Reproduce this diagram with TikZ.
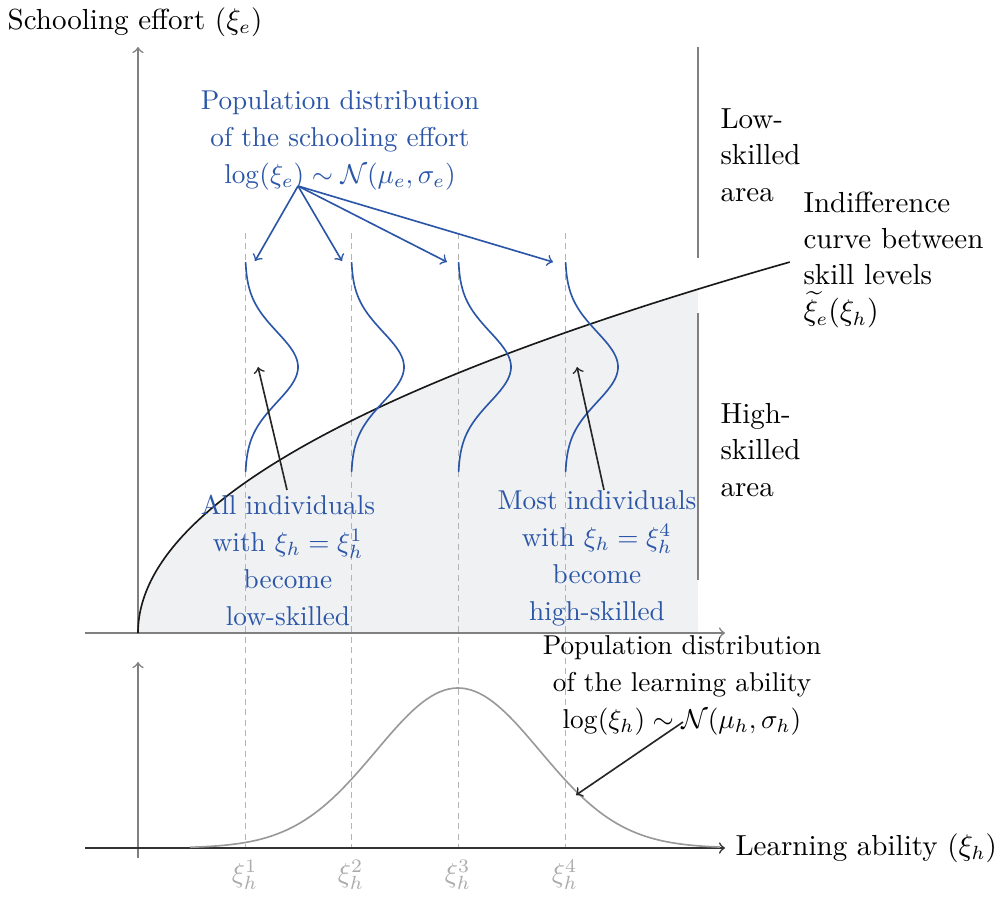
\documentclass[tikz,border=0pt]{standalone}
\usepackage{amsmath,amssymb}
\begin{document}
\begin{tikzpicture}[x=0.367pt,y=-0.367pt,
  every node/.style={font=\fontsize{10}{13.6}\selectfont},
  bigfont/.style={font=\fontsize{10.65}{13.3}\selectfont},
  blueC/.style={draw=myblue,semithick},
  axisline/.style={draw=axgray,semithick,->},
  dashv/.style={draw=dashc,line width=0.35pt,dash pattern=on 2.2pt off 1.6pt},
  txt/.style={inner sep=0pt,align=center},
  bluetxt/.style={txt,text=myblue},
  ltxt/.style={inner sep=0pt,align=left,anchor=west,bigfont},
  blackarrow/.style={draw=black!85,semithick,->}]
\definecolor{myblue}{HTML}{2B56A8}
\definecolor{axgray}{HTML}{808080}
\definecolor{dgray}{HTML}{ABABAB}
\definecolor{dashc}{HTML}{B4B4B4}
\definecolor{shadec}{HTML}{F0F1F3}
\definecolor{curvegray}{HTML}{999999}
\useasboundingbox (0,0) rectangle (1000,896);
% shaded high-skilled area
\fill[shadec] (138,633) -- plot[domain=0:23.66,samples=80] ({138+\x*\x},{633-14.53*\x}) -- (698,633) -- cycle;
% dashed verticals
\foreach \xx in {245,351,458,565} \draw[dashv] (\xx,233) -- (\xx,848);
% axes
\draw[axisline] (138,633) -- (138,47);
\draw[axisline] (85,633) -- (725,633);
\draw[axisline] (138,858) -- (138,662);
\draw[draw=black!80,semithick,->] (85,848) -- (725,848);
% indifference curve
\draw[black!90,semithick] plot[domain=0:25.53,samples=100] ({138+\x*\x},{633-14.53*\x});
% separator line
\draw[axgray,semithick] (698,47) -- (698,258);
\draw[axgray,semithick] (698,313) -- (698,580);
% blue sideways gaussians
\foreach \xx in {245,351,458,565}
  \draw[blueC] plot[domain=262:472,samples=70] ({\xx+53*exp(-0.5*((\x-367)/35)^2)},{\x});
% lower gaussian
\draw[curvegray,semithick] plot[domain=190:720,samples=120] ({\x},{848-160*exp(-0.5*((\x-458)/82)^2)});
% texts
\node[txt,bigfont] (ylab) at (135,22) {Schooling effort ($\xi_e$)};
\node[bluetxt] (popE) at (340,140) {Population distribution\\of the schooling effort\\$\log(\xi_e)\sim\mathcal{N}(\mu_e,\sigma_e)$};
\node[ltxt] (low) at (720,155) {Low-\\skilled\\area};
\node[ltxt] (high) at (720,450) {High-\\skilled\\area};
\node[ltxt] (indiff) at (803,260) {Indifference\\curve between\\skill levels\\$\widetilde{\xi}_e(\xi_h)$};
\node[bluetxt] (allind) at (288,560) {All individuals\\with $\xi_h=\xi_h^1$\\become\\low-skilled};
\node[bluetxt] (mostind) at (597,558) {Most individuals\\with $\xi_h=\xi_h^4$\\become\\high-skilled};
\node[txt] (popH) at (682,685) {Population distribution\\of the learning ability\\$\log(\xi_h)\sim\mathcal{N}(\mu_h,\sigma_h)$};
\node[ltxt] (xlab) at (735,848) {Learning ability ($\xi_h$)};
\foreach \xx/\i in {245/1,351/2,458/3,565/4}
  \node[txt,text=dgray] (t\i) at (\xx,875) {$\xi_h^{\i}$};
% arrow coordinates
\coordinate (src) at (298,186);
\coordinate (a1) at (255,261);
\coordinate (a2) at (342,261);
\coordinate (a3) at (447,262);
\coordinate (a4) at (553,262);
\foreach \i in {1,...,4} \draw[draw=myblue,semithick,->] (src) -- (a\i);
\coordinate (allS) at (287,490);
\coordinate (allT) at (258,367);
\coordinate (mostS) at (604,490);
\coordinate (mostT) at (577,367);
\draw[blackarrow] (allS) -- (allT);
\draw[blackarrow] (mostS) -- (mostT);
\coordinate (popHS) at (683,722);
\coordinate (popHT) at (576,795);
\draw[blackarrow] (popHS) -- (popHT);
\end{tikzpicture}
\end{document}
